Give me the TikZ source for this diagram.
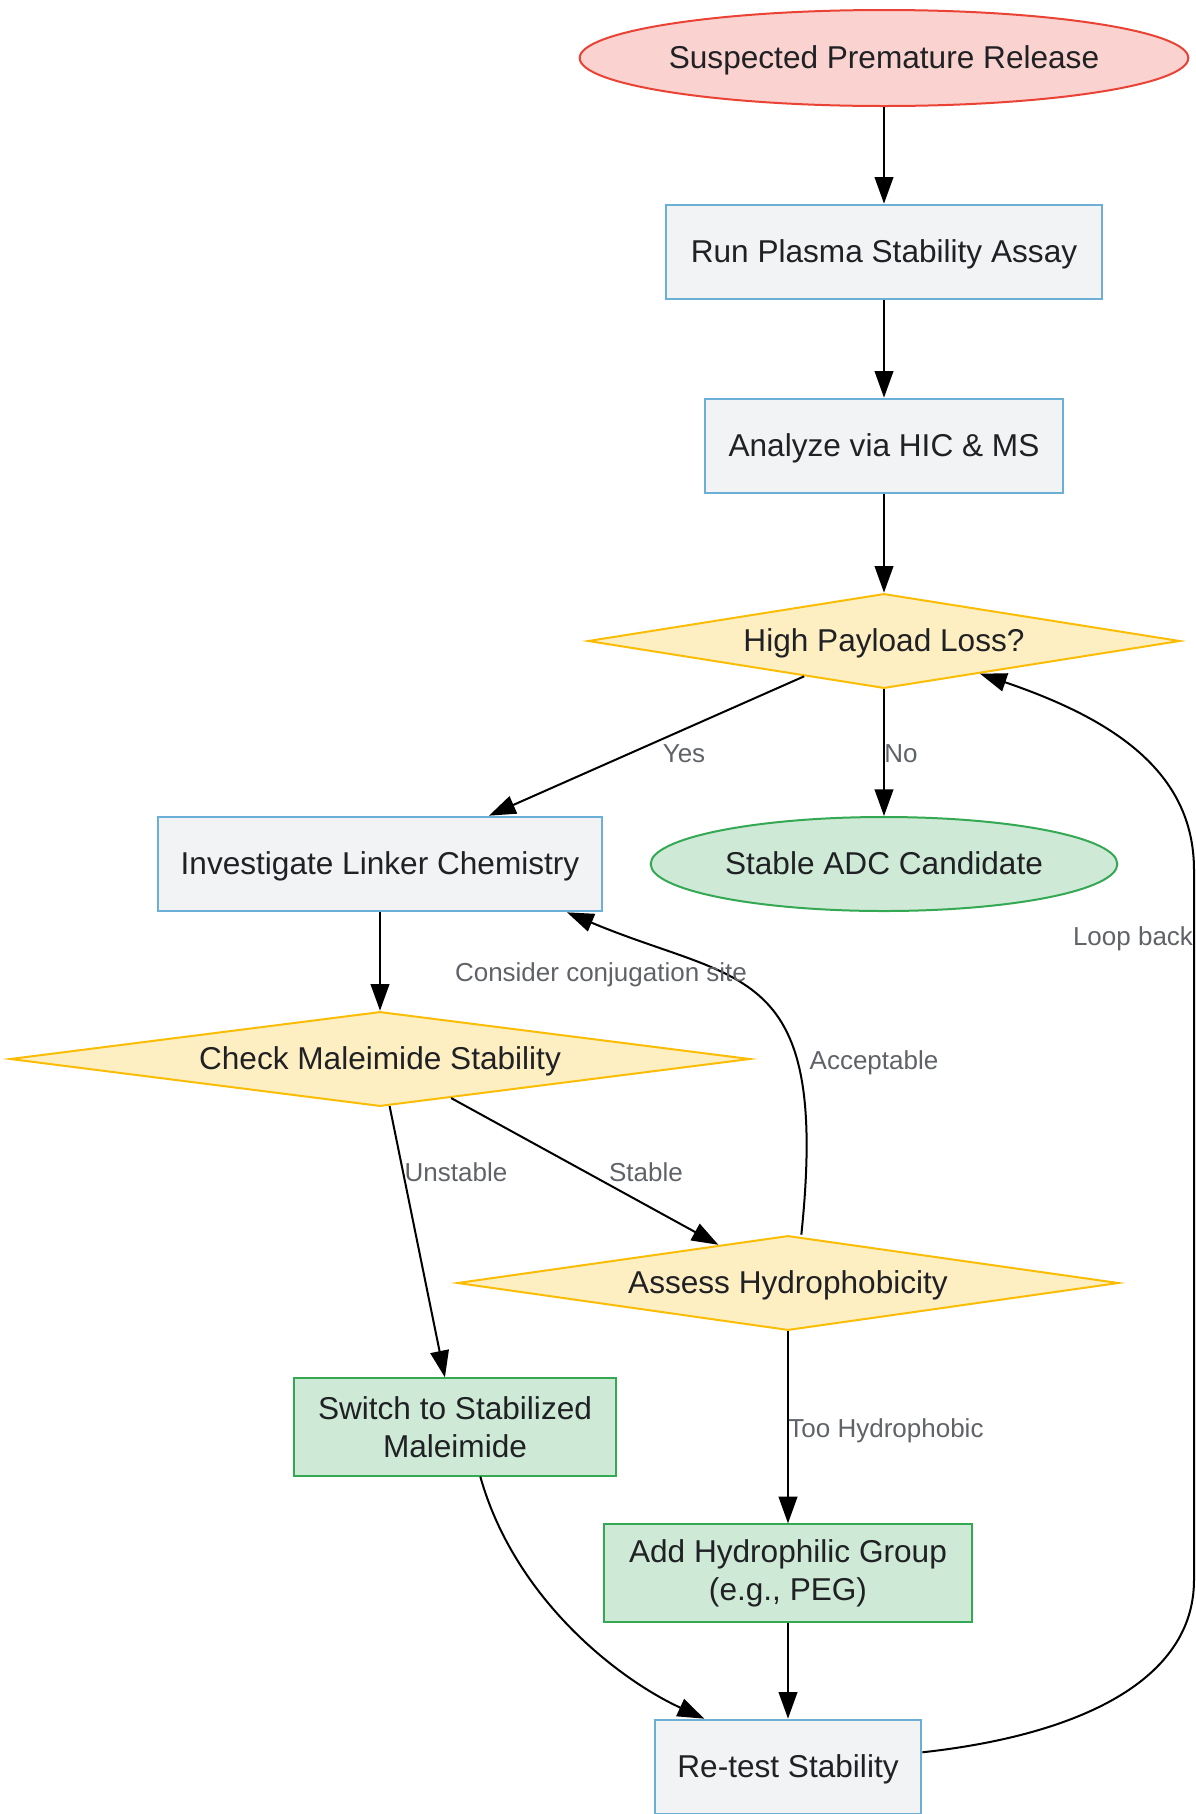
\documentclass[tikz,border=0pt]{standalone}
\usepackage{fontspec}
\setmainfont{Liberation Sans}
\usetikzlibrary{shapes.geometric, arrows.meta}
\definecolor{startfill}{HTML}{FAD2CF}
\definecolor{startline}{HTML}{EA4335}
\definecolor{stepfill}{HTML}{F1F3F4}
\definecolor{stepline}{HTML}{6BAED6}
\definecolor{askfill}{HTML}{FEEFC3}
\definecolor{askline}{HTML}{FBBC04}
\definecolor{okfill}{HTML}{CEEAD6}
\definecolor{okline}{HTML}{34A853}
\definecolor{inktext}{HTML}{202124}
\definecolor{labeltext}{HTML}{5F6368}

\begin{document}
\begin{tikzpicture}[x=0.75pt, y=-0.75pt,
    every node/.style={text=inktext, font=\fontsize{23.7}{28.5}\selectfont, line width=1.5pt, inner sep=0pt},
    oneline/.style={text height=21.45pt, text depth=5pt},
    startnode/.style={oneline, draw=startline, fill=startfill, ellipse, minimum width=456pt, minimum height=72pt},
    stepbox/.style={oneline, draw=stepline, fill=stepfill, rectangle, minimum height=71pt},
    fixbox/.style={draw=okline, fill=okfill, rectangle, minimum height=73pt, align=center},
    endnode/.style={oneline, draw=okline, fill=okfill, ellipse},
    decision/.style={oneline, draw=askline, fill=askfill, diamond, shape aspect=6.2, minimum height=71pt},
    flow/.style={line width=1.5pt, -{Triangle[length=20pt,width=14pt]}},
    lbl/.style={text=labeltext, font=\fontsize{19.5}{23}\selectfont, text height=17.65pt, text depth=4.13pt}]
    \useasboundingbox (0,0) rectangle (1196,1814);

    % Main line of checks
    \node[startnode] (start) at (884,58) {Suspected Premature Release};
    \node[stepbox, minimum width=327pt] (plasma) at (884,252) {Run Plasma Stability Assay};
    \node[stepbox, minimum width=268.5pt] (analyze) at (884,446) {Analyze via HIC \& MS};
    \node[decision, minimum width=444pt] (payload) at (884,641) {High Payload Loss?};
    \node[stepbox, minimum width=333pt] (linker) at (380,864) {Investigate Linker Chemistry};
    \node[endnode, minimum width=350pt, minimum height=70.5pt] (stable) at (884,864) {Stable ADC Candidate};

    % Linker branch
    \node[decision, minimum width=555pt] (maleimide) at (380,1059) {Check Maleimide Stability};
    \node[decision, minimum width=496pt] (hydro) at (788,1283) {Assess Hydrophobicity};
    \node[fixbox, minimum width=241.5pt] (switch) at (455,1427) {Switch to Stabilized\\Maleimide};
    \node[fixbox, minimum width=276pt] (peg) at (788,1573) {Add Hydrophilic Group\\(e.g., PEG)};
    \node[stepbox, minimum width=200pt] (retest) at (788,1767) {Re-test Stability};

    % Straight connectors
    \draw[flow] (start) -- (plasma);
    \draw[flow] (plasma) -- (analyze);
    \draw[flow] (analyze) -- (payload);
    \draw[flow] (payload) -- (linker) node[lbl] (yes) at (684,753) {Yes};
    \draw[flow] (payload) -- (stable) node[lbl] (no) at (901,753) {No};
    \draw[flow] (linker) -- (maleimide);
    \draw[flow] (maleimide) -- (switch) node[lbl] (unstable) at (456,1172) {Unstable};
    \draw[flow] (maleimide) -- (hydro) node[lbl] (stablelbl) at (646,1172) {Stable};
    \draw[flow] (hydro) -- (peg) node[lbl] (toohydro) at (886,1428) {Too Hydrophobic};
    \draw[flow] (peg) -- (retest);

    % Curved connectors
    \draw[flow] ([xshift=10pt]hydro.north) .. controls (830,960) and (740,985) .. ([xshift=-27pt]linker.south east)
        node[lbl] (accept) at (874,1060) {Acceptable}
        node[lbl] (site) at (601,972) {Consider conjugation site};
    \draw[flow] ([xshift=19pt]switch.south) .. controls (515,1600) and (620,1680) .. ([xshift=38pt]retest.north west);
    \draw[flow] (retest) .. controls (1080,1735) and (1194,1680) .. (1194,1580) -- (1194,870)
        .. controls (1194,770) and (1110,718) .. (payload)
        node[lbl] (loop) at (1133,936) {Loop back};
\end{tikzpicture}
\end{document}
